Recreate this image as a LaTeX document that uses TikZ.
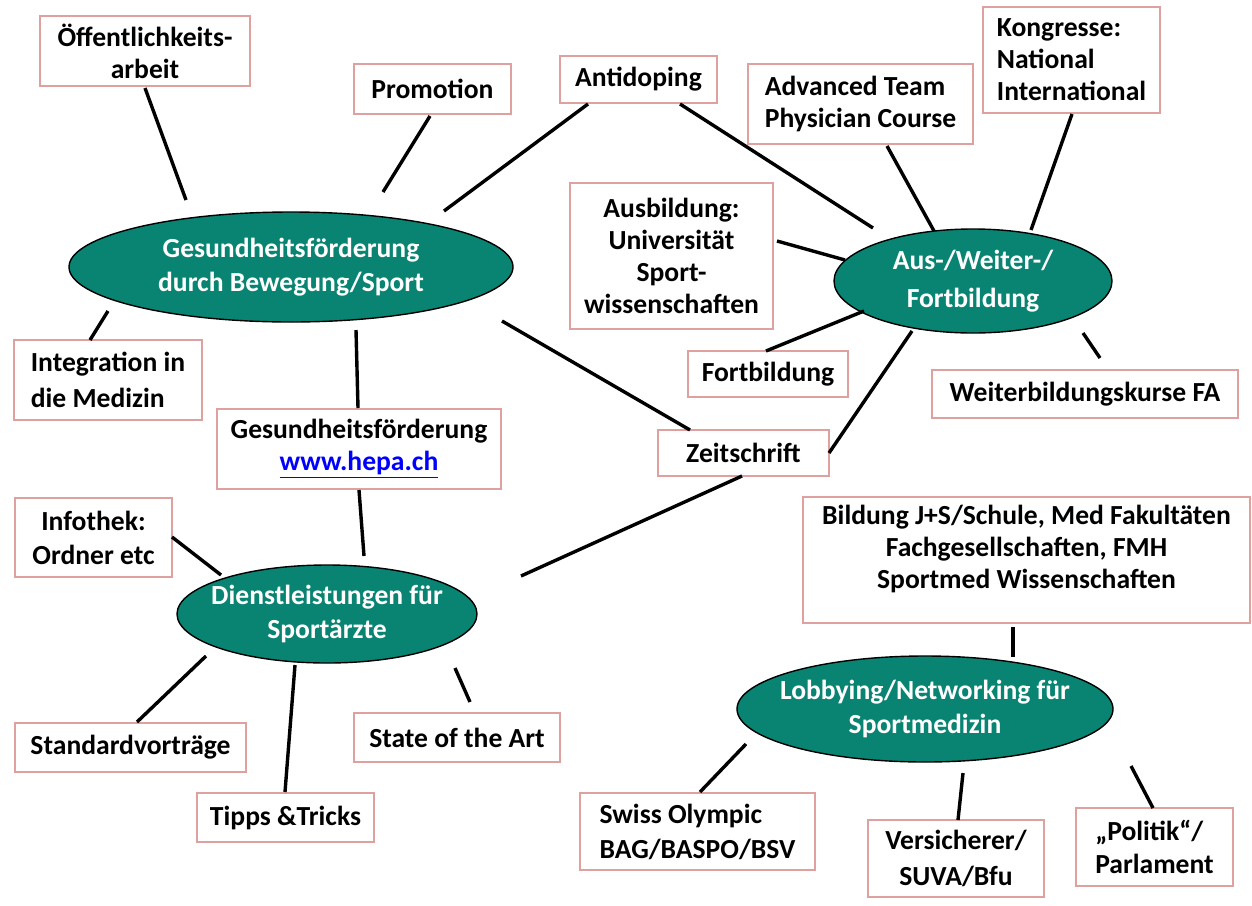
\documentclass[tikz,border=0pt]{standalone}
\usepackage{fontspec}
\setmainfont{Carlito}
\usetikzlibrary{shapes.geometric}
\definecolor{teal}{HTML}{0A8472}
\definecolor{boxred}{HTML}{DFA0A0}
\definecolor{linkblue}{HTML}{0000FF}
\tikzset{
  pbox/.style={draw=boxred, line width=0.8pt, fill=white, inner sep=0pt, font=\fontsize{13.8}{16}\selectfont\bfseries, align=center},
  hub/.style={ellipse, draw=black, line width=0.7pt, fill=teal, inner sep=0pt},
  hubtext/.style={inner sep=0pt, text=white, font=\fontsize{13.8}{17}\selectfont\bfseries, align=center},
  conn/.style={line width=1.7pt, black}
}
\begin{document}
\begin{tikzpicture}[x=0.5pt,y=-0.5pt]
\useasboundingbox (0,0) rectangle (1252,905);
% hubs
\node[hub, minimum width=222pt, minimum height=55pt] (gfb) at (291,267) {};
\node[hubtext] (gfbt) at (gfb) {Gesundheitsförderung\\durch Bewegung/Sport};
\node[hub, minimum width=139pt, minimum height=52pt] (aus) at (973,281) {};
\node[hubtext, font=\fontsize{13.8}{19}\selectfont\bfseries] (aust) at (aus) {Aus-/Weiter-/\\Fortbildung};
\node[hub, minimum width=150pt, minimum height=49pt] (dienst) at (327,614) {};
\node[hubtext] (dienstt) at (dienst) {Dienstleistungen für\\Sportärzte};
\node[hub, minimum width=188pt, minimum height=53pt] (lobby) at (925,709) {};
\node[hubtext] (lobbyt) at (lobby) {Lobbying/Networking für\\Sportmedizin};
% boxes
\node[pbox, minimum width=105pt, minimum height=35pt] (oeff) at (145,51) {Öffentlichkeits-\\arbeit};
\node[pbox, minimum width=78.5pt, minimum height=25pt] (promo) at (432.5,89) {Promotion};
\node[pbox, minimum width=78.5pt, minimum height=23.5pt] (anti) at (638.5,79.5) {Antidoping};
\node[pbox, minimum width=112.5pt, minimum height=40pt, align=left] (adv) at (860.5,104) {Advanced Team\\Physician Course};
\node[pbox, minimum width=88.5pt, minimum height=53pt, align=left] (kong) at (1071.5,60) {Kongresse:\\National\\International};
\node[pbox, minimum width=101.5pt, minimum height=73pt] (ausb) at (671.5,256) {Ausbildung:\\Universität\\Sport-\\wissenschaften};
\node[pbox, minimum width=80pt, minimum height=23pt] (fortb) at (768,374) {Fortbildung};
\node[pbox, minimum width=153pt, minimum height=24pt] (weiter) at (1085,394) {Weiterbildungskurse FA};
\node[pbox, minimum width=94pt, minimum height=40pt, align=left, font=\fontsize{13.8}{18}\selectfont\bfseries] (integ) at (108,380) {Integration in\\die Medizin};
\node[pbox, minimum width=142pt, minimum height=40pt] (hepa) at (359,449) {Gesundheitsförderung\\{\color{linkblue}\underline{www.hepa.ch}}};
\node[pbox, minimum width=85.5pt, minimum height=23pt] (zeit) at (743.5,453) {Zeitschrift};
\node[pbox, minimum width=78.5pt, minimum height=39.5pt, font=\fontsize{13.8}{17}\selectfont\bfseries] (info) at (93.5,537.5) {Infothek:\\Ordner etc};
\node[pbox, minimum width=115.5pt, minimum height=24.5pt] (stand) at (130.5,747.5) {Standardvorträge};
\node[pbox, minimum width=88.5pt, minimum height=24.5pt] (tipps) at (285.5,817.5) {Tipps \&Tricks};
\node[pbox, minimum width=103pt, minimum height=24.5pt] (state) at (457,737.5) {State of the Art};
\node[pbox, minimum width=223.5pt, minimum height=63pt] (bild) at (1026.5,560) {Bildung J+S/Schule, Med Fakultäten\\Fachgesellschaften, FMH\\Sportmed Wissenschaften\\[-3pt]};
\node[pbox, minimum width=117.5pt, minimum height=38.5pt, align=left, font=\fontsize{13.8}{17.5}\selectfont\bfseries] (swiss) at (697.5,831.5) {Swiss Olympic\\BAG/BASPO/BSV};
\node[pbox, minimum width=88pt, minimum height=38.5pt, font=\fontsize{13.8}{18}\selectfont\bfseries] (vers) at (956,858.5) {Versicherer/\\SUVA/Bfu};
\node[pbox, minimum width=78.5pt, minimum height=39pt, align=left, font=\fontsize{13.8}{16.5}\selectfont\bfseries] (polit) at (1154.5,847) {„Politik“/\\Parlament};
% connector end points
\coordinate (c1a) at (145,88);   \coordinate (c1b) at (186,200);
\coordinate (c2a) at (430,116);  \coordinate (c2b) at (383,192);
\coordinate (c3a) at (588,104);  \coordinate (c3b) at (444,211);
\coordinate (c4a) at (680,104);  \coordinate (c4b) at (873,228);
\coordinate (c5a) at (887,146);  \coordinate (c5b) at (934,231);
\coordinate (c6a) at (1072,114); \coordinate (c6b) at (1031,230);
\coordinate (c7a) at (777,241);  \coordinate (c7b) at (845,260);
\coordinate (c8a) at (766,351);  \coordinate (c8b) at (864,311);
\coordinate (c9a) at (829,453);  \coordinate (c9b) at (912,331);
\coordinate (c10a) at (1100,358); \coordinate (c10b) at (1083,333);
\coordinate (c11a) at (90,340);  \coordinate (c11b) at (108,311);
\coordinate (c12a) at (356,330); \coordinate (c12b) at (358,408);
\coordinate (c13a) at (502,321); \coordinate (c13b) at (690,430);
\coordinate (c14a) at (359,490); \coordinate (c14b) at (364,556);
\coordinate (c15a) at (742,476); \coordinate (c15b) at (521,576);
\coordinate (c16a) at (172,537); \coordinate (c16b) at (221,575);
\coordinate (c17a) at (137,722); \coordinate (c17b) at (206,656);
\coordinate (c18a) at (285,792); \coordinate (c18b) at (295,665);
\coordinate (c19a) at (470,702); \coordinate (c19b) at (455,668);
\coordinate (c20a) at (1013,627); \coordinate (c20b) at (1013,657);
\coordinate (c21a) at (700,792); \coordinate (c21b) at (746,744);
\coordinate (c22a) at (958,820); \coordinate (c22b) at (963,773);
\coordinate (c23a) at (1153,808); \coordinate (c23b) at (1131,766);
\foreach \i in {1,...,23} { \draw[conn] (c\i a) -- (c\i b); }
\end{tikzpicture}
\end{document}
